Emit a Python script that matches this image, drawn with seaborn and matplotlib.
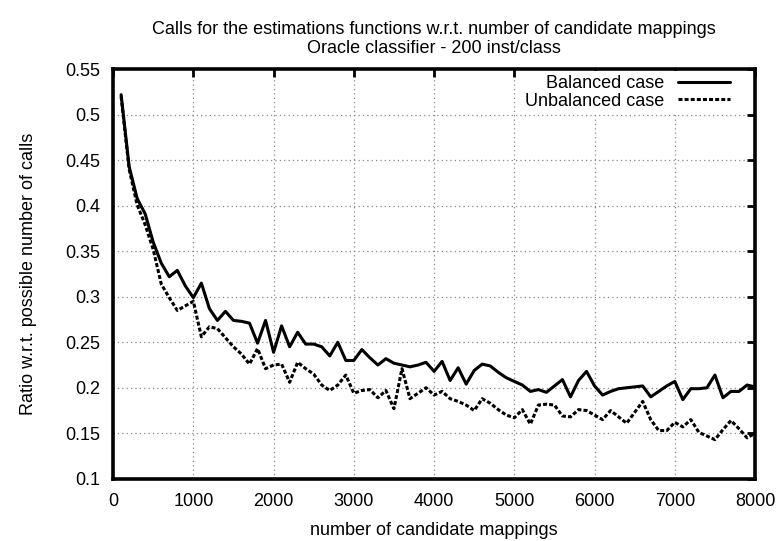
import matplotlib
matplotlib.use("Agg")
import matplotlib.pyplot as plt
import seaborn as sns
import pandas as pd

# --- data ---
mappings = list(range(100, 8001, 100))

balanced = [
    0.522, 0.443, 0.408, 0.391, 0.360, 0.337, 0.322, 0.329, 0.312, 0.299,
    0.315, 0.287, 0.274, 0.284, 0.274, 0.273, 0.271, 0.249, 0.274, 0.239,
    0.268, 0.245, 0.261, 0.248, 0.248, 0.245, 0.235, 0.250, 0.230, 0.230,
    0.242, 0.233, 0.225, 0.232, 0.227, 0.225, 0.223, 0.225, 0.228, 0.218,
    0.229, 0.208, 0.222, 0.204, 0.219, 0.226, 0.224, 0.217, 0.211, 0.207,
    0.203, 0.196, 0.198, 0.195, 0.202, 0.209, 0.190, 0.208, 0.218, 0.202,
    0.192, 0.196, 0.199, 0.200, 0.201, 0.202, 0.190, 0.196, 0.202, 0.207,
    0.187, 0.199, 0.199, 0.200, 0.214, 0.189, 0.196, 0.196, 0.203, 0.201,
]

unbalanced = [
    0.520, 0.440, 0.401, 0.379, 0.352, 0.314, 0.299, 0.285, 0.290, 0.295,
    0.256, 0.267, 0.265, 0.255, 0.245, 0.237, 0.226, 0.243, 0.221, 0.225,
    0.226, 0.206, 0.228, 0.221, 0.215, 0.203, 0.197, 0.203, 0.214, 0.194,
    0.197, 0.198, 0.189, 0.197, 0.177, 0.221, 0.188, 0.194, 0.200, 0.192,
    0.196, 0.188, 0.185, 0.181, 0.175, 0.188, 0.183, 0.176, 0.170, 0.167,
    0.176, 0.160, 0.181, 0.182, 0.181, 0.169, 0.168, 0.176, 0.175, 0.170,
    0.165, 0.175, 0.168, 0.161, 0.173, 0.185, 0.165, 0.153, 0.153, 0.162,
    0.157, 0.165, 0.151, 0.147, 0.143, 0.154, 0.164, 0.155, 0.145, 0.150,
]

x_ticks = [0, 1000, 2000, 3000, 4000, 5000, 6000, 7000, 8000]
y_ticks = [0.1, 0.15, 0.2, 0.25, 0.3, 0.35, 0.4, 0.45, 0.5, 0.55]
y_ticklabels = ["0.1", "0.15", "0.2", "0.25", "0.3", "0.35", "0.4", "0.45", "0.5", "0.55"]

df = pd.DataFrame({"mappings": mappings, "balanced": balanced, "unbalanced": unbalanced})

# --- style ---
sns.set_theme(style="white")
plt.rcParams["font.family"] = ["Liberation Sans", "DejaVu Sans"]
plt.rcParams["font.size"] = 13
plt.rcParams["text.color"] = "black"
plt.rcParams["axes.labelcolor"] = "black"

fig = plt.figure(figsize=(7.8, 5.41), dpi=100)
ax = fig.add_axes([0.145, 0.115, 0.823, 0.757])

sns.lineplot(data=df, x="mappings", y="balanced", ax=ax, color="black",
             linewidth=2.2, label="Balanced case")
sns.lineplot(data=df, x="mappings", y="unbalanced", ax=ax, color="black",
             linewidth=2.2, label="Unbalanced case")
ax.lines[1].set_dashes([1.3, 0.7])

ax.set_xlim(0, 8000)
ax.set_ylim(0.1, 0.55)
ax.set_xticks(x_ticks)
ax.set_yticks(y_ticks)
ax.set_yticklabels(y_ticklabels)

ax.grid(True, linestyle=(0, (1, 2.5)), color="#888888", linewidth=0.9)
ax.set_axisbelow(True)
ax.tick_params(direction="in", length=6, width=2, top=True, right=True,
               labelsize=13, colors="black")
ax.tick_params(axis="y", pad=9.5)
ax.tick_params(axis="x", pad=10)
for s in ax.spines.values():
    s.set_linewidth(2.6)
    s.set_color("black")

ax.set_xlabel("number of candidate mappings", fontsize=13, labelpad=9, color="black")
ax.set_ylabel("Ratio w.r.t. possible number of calls", fontsize=13, labelpad=20, color="black")
ax.set_title("Calls for the estimations functions w.r.t. number of candidate mappings\n"
             "Oracle classifier - 200 inst/class", fontsize=13, pad=12, linespacing=1.1,
             color="black")

leg = ax.legend(loc="upper right", bbox_to_anchor=(0.967, 0.995), borderaxespad=0,
                markerfirst=False, alignment="right", handlelength=2.9,
                handletextpad=0.75, labelspacing=0.05, borderpad=0.2,
                frameon=True, fancybox=False, framealpha=1, fontsize=13,
                labelcolor="black")
leg.get_frame().set_edgecolor("none")
leg.get_frame().set_facecolor("white")

fig.savefig("out.png", dpi=100)
